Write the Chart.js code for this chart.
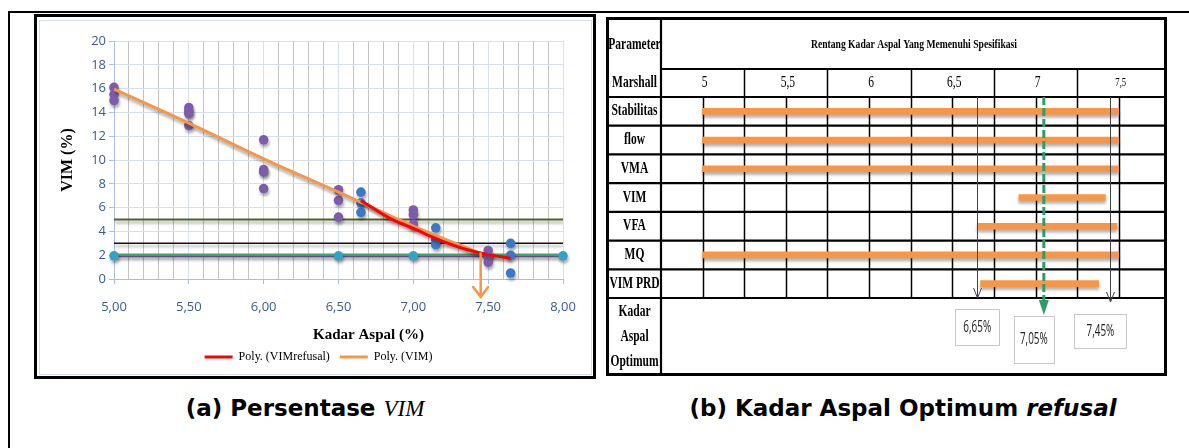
<!DOCTYPE html>
<html>
<head>
<meta charset="utf-8">
<script src="https://cdn.jsdelivr.net/npm/chart.js@4.4.1/dist/chart.umd.min.js"></script>
<style>
  html, body { margin: 0; padding: 0; background: #fff; }
  body { width: 1189px; height: 448px; position: relative; overflow: hidden; }
  .rule-top  { position: absolute; left: 8px; top: 11px; width: 1181px; height: 2px; background: #000; }
  .rule-left { position: absolute; left: 8px; top: 11px; width: 2px; height: 437px; background: #000; }
  #panelA { position: absolute; left: 34px; top: 14px; width: 562px; height: 365px;
            border: 3px solid #000; box-sizing: border-box; }
  #panelA .area { position: absolute; left: 2px; top: 3px; right: 1px; bottom: 1px; border: 1px solid #d3deec; }
  #vimChart { position: absolute; left: 40px; top: 21px; }
  #rangeChart { position: absolute; left: 604px; top: 15px; }
  .caption { position: absolute; top: 393px; height: 30px; line-height: 30px; text-align: center;
             font-family: "DejaVu Sans", sans-serif; font-weight: bold; font-size: 23px; color: #000; white-space: nowrap; }
  .caption .sym { font-family: "Liberation Serif", serif; font-style: italic; font-weight: normal; }
  .caption .it { font-style: italic; }
</style>
</head>
<body>
<div class="rule-top"></div>
<div class="rule-left"></div>
<div id="panelA"><div class="area"></div></div>
<canvas id="vimChart" width="551" height="353"></canvas>
<canvas id="rangeChart" width="566" height="364"></canvas>
<div class="caption" style="left:105px;width:400px;">(a) Persentase <span class="sym">VIM</span></div>
<div class="caption" style="left:653px;width:500px;">(b) Kadar Aspal Optimum <span class="it">refusal</span></div>

<script>
// ---------- (a) VIM versus asphalt content ----------
const vimContentX = [5.0, 5.0, 5.0, 5.5, 5.5, 5.5, 5.5, 6.0, 6.0, 6.0, 6.0, 6.5, 6.5, 6.5, 7.0, 7.0, 7.0, 7.5, 7.5, 7.5];
const vimValues   = [16.1, 15.5, 15.0, 14.4, 14.1, 13.9, 12.9, 11.7, 9.2, 9.0, 7.6, 7.5, 6.6, 5.2, 5.8, 5.4, 4.6, 2.4, 1.9, 1.4];

const refusalContentX = [6.65, 6.65, 6.65, 7.15, 7.15, 7.15, 7.65, 7.65, 7.65];
const refusalValues   = [7.3, 6.4, 5.6, 4.3, 3.3, 2.9, 3.0, 2.0, 0.5];

const specContentX = [5.0, 6.5, 7.0, 7.5, 8.0];
const specValues   = [1.95, 1.95, 1.95, 1.95, 1.95];

const polyVimX = [5.0, 5.5, 6.0, 6.5, 7.0, 7.45];
const polyVimY = [15.95, 13.1, 10.1, 7.3, 4.45, 2.15];

const polyRefusalX = [6.65, 6.85, 7.0, 7.15, 7.35, 7.5, 7.65];
const polyRefusalY = [6.6, 5.05, 4.25, 3.4, 2.5, 2.05, 1.75];

const limitSpan   = [5.0, 8.0];
const limitLevels = [5.0, 3.0, 2.05, 1.92];

const vimOptimum = 7.45;
const xTickLabels = ['5,00', '5,50', '6,00', '6,50', '7,00', '7,50', '8,00'];
const yTickLabels = ['0', '2', '4', '6', '8', '10', '12', '14', '16', '18', '20'];

// ---------- (b) asphalt content range meeting each specification ----------
const rangeParams = ['Stabilitas', 'flow', 'VMA', 'VIM', 'VFA', 'MQ', 'VIM PRD'];
const rangeStart  = [5.0, 5.0, 5.0, 6.9, 6.65, 5.0, 6.67];
const rangeEnd    = [7.5, 7.5, 7.5, 7.42, 7.49, 7.5, 7.38];

const headerTicks      = [5, 5.5, 6, 6.5, 7, 7.5];
const headerTickLabels = ['5', '5,5', '6', '6,5', '7', '7,5'];
const quarterTicks     = [5.25, 5.75, 6.25, 6.75, 7.25];

const optimumLow  = 6.65;
const optimumMid  = 7.05;
const optimumHigh = 7.45;
const optimumLabels = ['6,65%', '7,05%', '7,45%'];

// ---------- helpers ----------
const pts = (xs, ys) => xs.map((x, i) => ({ x, y: ys[i] }));
const isHalfStep = v => Math.abs(v * 2 - Math.round(v * 2)) < 1e-6;

function squeezedText(ctx, text, x, y, font, sx, align, color) {
  ctx.save();
  ctx.translate(x, y);
  ctx.scale(sx, 1);
  ctx.font = font;
  ctx.fillStyle = color || '#000';
  ctx.textAlign = align || 'center';
  ctx.textBaseline = 'middle';
  ctx.fillText(text, 0, 0);
  ctx.restore();
}

// soft drop shadow under every dataset
const softShadow = {
  id: 'softShadow',
  beforeDatasetDraw(chart, args, opts) {
    const ctx = chart.ctx;
    ctx.save();
    ctx.shadowColor = opts.color || 'rgba(0,0,0,0.35)';
    ctx.shadowBlur = opts.blur || 3;
    ctx.shadowOffsetX = opts.dx || 0;
    ctx.shadowOffsetY = opts.dy || 2;
  },
  afterDatasetDraw(chart) { chart.ctx.restore(); }
};

// axis titles and the optimum arrow of chart (a)
const vimDecor = {
  id: 'vimDecor',
  afterDatasetsDraw(chart) {
    const { ctx, chartArea: ca, scales: { x, y } } = chart;
    const ax = x.getPixelForValue(vimOptimum);
    const top = y.getPixelForValue(polyVimY[polyVimY.length - 1]);
    const tip = ca.bottom + 18;
    ctx.save();
    ctx.strokeStyle = '#F79646';
    ctx.lineWidth = 2.5;
    ctx.lineCap = 'round';
    ctx.beginPath();
    ctx.moveTo(ax, top);
    ctx.lineTo(ax, tip);
    ctx.moveTo(ax - 7.5, tip - 10);
    ctx.lineTo(ax, tip);
    ctx.lineTo(ax + 7.5, tip - 10);
    ctx.stroke();
    ctx.restore();
  },
  afterDraw(chart) {
    const { ctx, chartArea: ca } = chart;
    ctx.save();
    ctx.fillStyle = '#000';
    ctx.textAlign = 'center';
    ctx.textBaseline = 'middle';
    ctx.font = 'bold 15px "Liberation Serif", serif';
    ctx.fillText('Kadar Aspal (%)', (ca.left + ca.right) / 2 + 30, ca.bottom + 56);
    ctx.translate(28, (ca.top + ca.bottom) / 2);
    ctx.rotate(-Math.PI / 2);
    ctx.font = 'bold 16px "Liberation Serif", serif';
    ctx.fillText('VIM (%)', 0, 0);
    ctx.restore();
  }
};

const axisBlue = '#3A5B92';
const gridBlue = '#D5E1F0';
const edgeBlue = '#A9BFDE';

new Chart(document.getElementById('vimChart'), {
  type: 'scatter',
  data: {
    datasets: [
      { label: 'Poly. (VIMrefusal)', type: 'line', data: pts(polyRefusalX, polyRefusalY),
        borderColor: '#FF0000', backgroundColor: '#FF0000', borderWidth: 3, pointRadius: 0,
        cubicInterpolationMode: 'monotone', order: 0 },
      { label: 'Poly. (VIM)', type: 'line', data: pts(polyVimX, polyVimY),
        borderColor: '#F79646', backgroundColor: '#F79646', borderWidth: 3, pointRadius: 0,
        cubicInterpolationMode: 'monotone', order: 1 },
      { label: 'VIMrefusal', data: pts(refusalContentX, refusalValues),
        backgroundColor: '#3C78C3', borderWidth: 0, pointRadius: 4.8, clip: false, order: 2 },
      { label: 'VIM', data: pts(vimContentX, vimValues),
        backgroundColor: '#7D5DA8', borderWidth: 0, pointRadius: 4.8, clip: false, order: 3 },
      { label: 'Spesifikasi', data: pts(specContentX, specValues),
        backgroundColor: '#34A3C3', borderWidth: 0, pointRadius: 4.8, clip: false, order: 4 },
      { label: 'Batas 5', type: 'line', data: limitSpan.map(x => ({ x, y: limitLevels[0] })),
        borderColor: '#4F6228', borderWidth: 2, pointRadius: 0, order: 5 },
      { label: 'Batas 3', type: 'line', data: limitSpan.map(x => ({ x, y: limitLevels[1] })),
        borderColor: '#111111', borderWidth: 1.5, pointRadius: 0, order: 6 },
      { label: 'Batas 2', type: 'line', data: limitSpan.map(x => ({ x, y: limitLevels[2] })),
        borderColor: '#3DAA63', borderWidth: 2, pointRadius: 0, order: 7 },
      { label: 'Batas PRD', type: 'line', data: limitSpan.map(x => ({ x, y: limitLevels[3] })),
        borderColor: '#7D4FA6', borderWidth: 2, pointRadius: 0, order: 8 }
    ]
  },
  options: {
    responsive: false,
    animation: false,
    events: [],
    layout: { padding: { left: 34, right: 28, top: 20, bottom: 1 } },
    scales: {
      x: {
        type: 'linear', min: 5, max: 8,
        ticks: {
          stepSize: 0.1, autoSkip: false, maxRotation: 0, minRotation: 0, padding: 15,
          font: { family: '"Open Sans", sans-serif', size: 13 }, color: axisBlue,
          callback: v => isHalfStep(v) ? xTickLabels[Math.round((v - 5) * 2)] : ''
        },
        grid: {
          color: c => isHalfStep(c.tick.value) ? gridBlue : '#C3C3C3',
          tickColor: c => isHalfStep(c.tick.value) ? edgeBlue : 'rgba(0,0,0,0)',
          tickLength: 5, lineWidth: 1
        },
        border: { color: edgeBlue },
        afterFit(s) { s.height = 62; }
      },
      y: {
        min: 0, max: 20,
        ticks: {
          stepSize: 2, padding: 3,
          font: { family: '"Open Sans", sans-serif', size: 13 }, color: axisBlue,
          callback: (v) => yTickLabels[Math.round(v / 2)]
        },
        grid: { color: gridBlue, tickColor: edgeBlue, tickLength: 5 },
        border: { color: edgeBlue },
        afterFit(s) { s.width = 40; }
      }
    },
    plugins: {
      legend: {
        position: 'bottom',
        labels: {
          filter: item => item.datasetIndex < 2,
          usePointStyle: true, pointStyle: 'line', pointStyleWidth: 28,
          padding: 10, color: '#000',
          font: { family: '"Liberation Serif", serif', size: 12 }
        }
      },
      tooltip: { enabled: false },
      softShadow: { color: 'rgba(0,0,0,0.33)', blur: 3, dx: 1, dy: 3 }
    }
  },
  plugins: [softShadow, vimDecor]
});

// ---------- table grid, labels and optimum markers of panel (b) ----------
const tableDecor = {
  id: 'tableDecor',
  beforeDatasetsDraw(chart) {
    const { ctx, chartArea: ca, scales: { x } } = chart;
    const labelColW = 55;
    const left = ca.left - labelColW, right = ca.right;
    const top = ca.top - 80, bottom = ca.bottom + 78;
    const headerMid = ca.top - 28;
    const rowH = (ca.bottom - ca.top) / rangeParams.length;
    ctx.save();
    ctx.strokeStyle = '#000';
    // sub-columns at every half percent (data rows only)
    ctx.lineWidth = 1.5;
    ctx.beginPath();
    headerTicks.forEach(v => { const px = Math.round(x.getPixelForValue(v)) + 0.5; ctx.moveTo(px, ca.top); ctx.lineTo(px, ca.bottom); });
    // column dividers of the Marshall header row
    quarterTicks.forEach(v => { const px = Math.round(x.getPixelForValue(v)) + 0.5; ctx.moveTo(px, headerMid); ctx.lineTo(px, ca.bottom); });
    ctx.stroke();
    // row rules
    ctx.lineWidth = 2.2;
    ctx.beginPath();
    ctx.moveTo(ca.left, headerMid); ctx.lineTo(right, headerMid);
    for (let i = 0; i <= rangeParams.length; i++) {
      const py = ca.top + i * rowH;
      ctx.moveTo(left, py); ctx.lineTo(right, py);
    }
    ctx.moveTo(ca.left, top); ctx.lineTo(ca.left, bottom);
    ctx.stroke();
    // outer border
    ctx.lineWidth = 3;
    ctx.strokeRect(left + 1.5, top + 1.5, right - left - 3, bottom - top - 3);
    ctx.restore();

    const f = 'bold 16px "Liberation Serif", serif';
    const cx = left + labelColW / 2 + 1;
    squeezedText(ctx, 'Parameter', cx, top + 28, f, 0.72);
    squeezedText(ctx, 'Marshall', cx, top + 66, f, 0.72);
    squeezedText(ctx, 'Rentang Kadar Aspal Yang Memenuhi Spesifikasi', (ca.left + ca.right) / 2, top + 28,
      'bold 13px "Liberation Serif", serif', 0.74);
    headerTicks.forEach((v, i) => {
      const last = i === headerTicks.length - 1;
      squeezedText(ctx, headerTickLabels[i], x.getPixelForValue(v) + 2, top + 66,
        (last ? '12px' : '16px') + ' "Liberation Serif", serif', 0.72);
    });
    rangeParams.forEach((p, i) => {
      squeezedText(ctx, p, cx, ca.top + (i + 0.5) * rowH, f, 0.72);
    });
    squeezedText(ctx, 'Kadar', cx, ca.bottom + 14, f, 0.72);
    squeezedText(ctx, 'Aspal', cx, ca.bottom + 39, f, 0.72);
    squeezedText(ctx, 'Optimum', cx, ca.bottom + 64, f, 0.72);
  },
  afterDatasetsDraw(chart) {
    const { ctx, chartArea: ca, scales: { x } } = chart;
    ctx.save();
    // thin arrows at the lower and upper limits
    ctx.strokeStyle = '#444';
    ctx.lineWidth = 1;
    [[optimumLow, ca.bottom], [optimumHigh, ca.bottom + 4]].forEach(([v, tip]) => {
      const px = Math.round(x.getPixelForValue(v)) + 0.5;
      ctx.beginPath();
      ctx.moveTo(px, ca.top); ctx.lineTo(px, tip);
      ctx.moveTo(px - 4, tip - 10); ctx.lineTo(px, tip); ctx.lineTo(px + 4, tip - 10);
      ctx.stroke();
    });
    // dashed green arrow at the optimum
    const gx = x.getPixelForValue(optimumMid);
    const gTip = ca.bottom + 17;
    ctx.strokeStyle = '#2E9B68';
    ctx.fillStyle = '#2E9B68';
    ctx.lineWidth = 3;
    ctx.setLineDash([8, 3]);
    ctx.beginPath();
    ctx.moveTo(gx, ca.top); ctx.lineTo(gx, gTip - 12);
    ctx.stroke();
    ctx.setLineDash([]);
    ctx.beginPath();
    ctx.moveTo(gx - 5, gTip - 15); ctx.lineTo(gx + 5, gTip - 15); ctx.lineTo(gx, gTip);
    ctx.closePath();
    ctx.fill();
    // value boxes beneath the arrows
    const boxes = [
      { v: optimumLow,  w: 44, h: 36, dy: 11, shift: 0 },
      { v: optimumMid,  w: 40, h: 47, dy: 18, shift: -10 },
      { v: optimumHigh, w: 52, h: 34, dy: 16, shift: -10 }
    ];
    boxes.forEach((b, i) => {
      const bx = x.getPixelForValue(b.v) - b.w / 2 + b.shift;
      const by = ca.bottom + b.dy;
      ctx.fillStyle = '#fff';
      ctx.fillRect(bx, by, b.w, b.h);
      ctx.strokeStyle = '#C8C8C8';
      ctx.lineWidth = 1;
      ctx.strokeRect(Math.round(bx) + 0.5, Math.round(by) + 0.5, b.w, b.h);
      squeezedText(ctx, optimumLabels[i], bx + b.w / 2, by + b.h / 2, '16px "Open Sans", sans-serif', 0.62, 'center', '#222');
    });
    ctx.restore();
  }
};

new Chart(document.getElementById('rangeChart'), {
  type: 'bar',
  data: {
    labels: rangeParams,
    datasets: [{
      label: 'Rentang kadar aspal',
      data: rangeParams.map((_, i) => [rangeStart[i], rangeEnd[i]]),
      backgroundColor: '#F79646',
      borderWidth: 0,
      borderSkipped: false,
      barThickness: 6
    }]
  },
  options: {
    indexAxis: 'y',
    responsive: false,
    animation: false,
    events: [],
    layout: { padding: { left: 57, right: 3, top: 82, bottom: 81 } },
    scales: {
      x: { type: 'linear', min: 4.75, max: 7.79, display: false },
      y: { display: false }
    },
    plugins: {
      legend: { display: false },
      tooltip: { enabled: false },
      softShadow: { color: 'rgba(0,0,0,0.3)', blur: 3, dx: 0, dy: 3 }
    }
  },
  plugins: [softShadow, tableDecor]
});
</script>
</body>
</html>
